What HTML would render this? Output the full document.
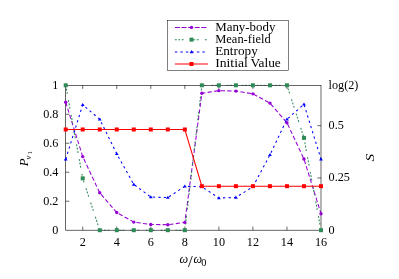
<!DOCTYPE html><html><head><meta charset="utf-8"><style>html,body{margin:0;padding:0;background:#fff}svg{display:block;will-change:transform}text{font-family:"Liberation Serif",serif;font-size:12.2px;fill:#000}</style></head><body>
<svg width="399" height="279" viewBox="0 0 399 279">
<rect width="399" height="279" fill="#fff"/>
<g fill="none" stroke-width="1.05">
<polyline points="65.70,102.25 82.72,156.59 99.74,192.82 116.76,212.52 133.78,222.09 150.80,224.55 167.82,224.69 184.84,222.38 201.86,93.27 218.88,90.66 235.90,91.10 252.92,93.85 269.94,103.12 286.96,122.68 303.98,159.05 321.00,213.68" stroke="#9400d3" stroke-dasharray="4.3 2.3"/>
<path d="M65.70 85.30 L82.72 178.33" stroke="#2e8b57" stroke-dasharray="1.9 1.55 1.9 1.55 1.9 6.2" stroke-dashoffset="0.00"/>
<path d="M82.72 178.33 L99.74 230.20" stroke="#2e8b57" stroke-dasharray="1.9 1.55 1.9 1.55 1.9 6.2" stroke-dashoffset="4.57"/>
<path d="M99.74 230.20 L116.76 230.20" stroke="#2e8b57" stroke-dasharray="1.9 1.55 1.9 1.55 1.9 6.2" stroke-dashoffset="14.16" stroke-width="0.75"/>
<path d="M116.76 230.20 L133.78 230.20" stroke="#2e8b57" stroke-dasharray="1.9 1.55 1.9 1.55 1.9 6.2" stroke-dashoffset="1.18" stroke-width="0.75"/>
<path d="M133.78 230.20 L150.80 230.20" stroke="#2e8b57" stroke-dasharray="1.9 1.55 1.9 1.55 1.9 6.2" stroke-dashoffset="3.20" stroke-width="0.75"/>
<path d="M150.80 230.20 L167.82 230.20" stroke="#2e8b57" stroke-dasharray="1.9 1.55 1.9 1.55 1.9 6.2" stroke-dashoffset="5.22" stroke-width="0.75"/>
<path d="M167.82 230.20 L184.84 230.20" stroke="#2e8b57" stroke-dasharray="1.9 1.55 1.9 1.55 1.9 6.2" stroke-dashoffset="7.24" stroke-width="0.75"/>
<path d="M184.84 230.20 L201.86 85.30" stroke="#2e8b57" stroke-dasharray="1.9 1.55 1.9 1.55 1.9 6.2" stroke-dashoffset="9.26"/>
<path d="M201.86 85.30 L218.88 85.30" stroke="#2e8b57" stroke-dasharray="1.9 1.55 1.9 1.55 1.9 6.2" stroke-dashoffset="5.16" stroke-width="0.75"/>
<path d="M218.88 85.30 L235.90 85.30" stroke="#2e8b57" stroke-dasharray="1.9 1.55 1.9 1.55 1.9 6.2" stroke-dashoffset="7.18" stroke-width="0.75"/>
<path d="M235.90 85.30 L252.92 85.30" stroke="#2e8b57" stroke-dasharray="1.9 1.55 1.9 1.55 1.9 6.2" stroke-dashoffset="9.20" stroke-width="0.75"/>
<path d="M252.92 85.30 L269.94 85.30" stroke="#2e8b57" stroke-dasharray="1.9 1.55 1.9 1.55 1.9 6.2" stroke-dashoffset="11.22" stroke-width="0.75"/>
<path d="M269.94 85.30 L286.96 85.30" stroke="#2e8b57" stroke-dasharray="1.9 1.55 1.9 1.55 1.9 6.2" stroke-dashoffset="13.24" stroke-width="0.75"/>
<path d="M286.96 85.30 L303.98 137.90" stroke="#2e8b57" stroke-dasharray="1.9 1.55 1.9 1.55 1.9 6.2" stroke-dashoffset="0.26"/>
<path d="M303.98 137.90 L321.00 230.20" stroke="#2e8b57" stroke-dasharray="1.9 1.55 1.9 1.55 1.9 6.2" stroke-dashoffset="10.54"/>
<polyline points="65.70,159.20 82.72,104.86 99.74,119.21 116.76,153.84 133.78,184.41 150.80,197.02 167.82,197.60 184.84,186.30 201.86,186.73 218.88,198.03 235.90,197.45 252.92,186.73 269.94,154.85 286.96,119.21 303.98,104.28 321.00,159.20" stroke="#0000ff" stroke-dasharray="2.3 3.2"/>
<polyline points="65.70,129.49 82.72,129.49 99.74,129.49 116.76,129.49 133.78,129.49 150.80,129.49 167.82,129.49 184.84,129.49 201.86,186.19 218.88,186.19 235.90,186.19 252.92,186.19 269.94,186.19 286.96,186.19 303.98,186.19 321.00,186.19" stroke="#ff0000"/>
</g>
<g stroke="#000" stroke-width="0.6" fill="none">
<rect x="65.70" y="85.30" width="255.30" height="144.90"/>
<path d="M82.72 230.20 v-3.60 M82.72 85.30 v3.60"/>
<path d="M116.76 230.20 v-3.60 M116.76 85.30 v3.60"/>
<path d="M150.80 230.20 v-3.60 M150.80 85.30 v3.60"/>
<path d="M184.84 230.20 v-3.60 M184.84 85.30 v3.60"/>
<path d="M218.88 230.20 v-3.60 M218.88 85.30 v3.60"/>
<path d="M252.92 230.20 v-3.60 M252.92 85.30 v3.60"/>
<path d="M286.96 230.20 v-3.60 M286.96 85.30 v3.60"/>
<path d="M65.70 201.22 h3.60"/>
<path d="M65.70 172.24 h3.60"/>
<path d="M65.70 143.26 h3.60"/>
<path d="M65.70 114.28 h3.60"/>
<path d="M321.00 177.94 h-3.60"/>
<path d="M321.00 125.68 h-3.60"/>
</g>
<circle cx="65.70" cy="102.25" r="1.70" fill="#9400d3"/>
<circle cx="82.72" cy="156.59" r="1.70" fill="#9400d3"/>
<circle cx="99.74" cy="192.82" r="1.70" fill="#9400d3"/>
<circle cx="116.76" cy="212.52" r="1.70" fill="#9400d3"/>
<circle cx="133.78" cy="222.09" r="1.70" fill="#9400d3"/>
<circle cx="150.80" cy="224.55" r="1.70" fill="#9400d3"/>
<circle cx="167.82" cy="224.69" r="1.70" fill="#9400d3"/>
<circle cx="184.84" cy="222.38" r="1.70" fill="#9400d3"/>
<circle cx="201.86" cy="93.27" r="1.70" fill="#9400d3"/>
<circle cx="218.88" cy="90.66" r="1.70" fill="#9400d3"/>
<circle cx="235.90" cy="91.10" r="1.70" fill="#9400d3"/>
<circle cx="252.92" cy="93.85" r="1.70" fill="#9400d3"/>
<circle cx="269.94" cy="103.12" r="1.70" fill="#9400d3"/>
<circle cx="286.96" cy="122.68" r="1.70" fill="#9400d3"/>
<circle cx="303.98" cy="159.05" r="1.70" fill="#9400d3"/>
<circle cx="321.00" cy="213.68" r="1.70" fill="#9400d3"/>
<rect x="63.70" y="83.30" width="4.00" height="4.00" fill="#2e8b57"/>
<rect x="80.72" y="176.33" width="4.00" height="4.00" fill="#2e8b57"/>
<rect x="97.74" y="228.20" width="4.00" height="4.00" fill="#2e8b57"/>
<rect x="114.76" y="228.20" width="4.00" height="4.00" fill="#2e8b57"/>
<rect x="131.78" y="228.20" width="4.00" height="4.00" fill="#2e8b57"/>
<rect x="148.80" y="228.20" width="4.00" height="4.00" fill="#2e8b57"/>
<rect x="165.82" y="228.20" width="4.00" height="4.00" fill="#2e8b57"/>
<rect x="182.84" y="228.20" width="4.00" height="4.00" fill="#2e8b57"/>
<rect x="199.86" y="83.30" width="4.00" height="4.00" fill="#2e8b57"/>
<rect x="216.88" y="83.30" width="4.00" height="4.00" fill="#2e8b57"/>
<rect x="233.90" y="83.30" width="4.00" height="4.00" fill="#2e8b57"/>
<rect x="250.92" y="83.30" width="4.00" height="4.00" fill="#2e8b57"/>
<rect x="267.94" y="83.30" width="4.00" height="4.00" fill="#2e8b57"/>
<rect x="284.96" y="83.30" width="4.00" height="4.00" fill="#2e8b57"/>
<rect x="301.98" y="135.90" width="4.00" height="4.00" fill="#2e8b57"/>
<rect x="319.00" y="228.20" width="4.00" height="4.00" fill="#2e8b57"/>
<path d="M63.80 160.45 L67.60 160.45 L65.70 157.37 Z" fill="#0000ff"/>
<path d="M80.82 106.11 L84.62 106.11 L82.72 103.03 Z" fill="#0000ff"/>
<path d="M97.84 120.46 L101.64 120.46 L99.74 117.38 Z" fill="#0000ff"/>
<path d="M114.86 155.09 L118.66 155.09 L116.76 152.01 Z" fill="#0000ff"/>
<path d="M131.88 185.66 L135.68 185.66 L133.78 182.58 Z" fill="#0000ff"/>
<path d="M148.90 198.27 L152.70 198.27 L150.80 195.19 Z" fill="#0000ff"/>
<path d="M165.92 198.85 L169.72 198.85 L167.82 195.77 Z" fill="#0000ff"/>
<path d="M182.94 187.55 L186.74 187.55 L184.84 184.47 Z" fill="#0000ff"/>
<path d="M199.96 187.98 L203.76 187.98 L201.86 184.90 Z" fill="#0000ff"/>
<path d="M216.98 199.28 L220.78 199.28 L218.88 196.20 Z" fill="#0000ff"/>
<path d="M234.00 198.70 L237.80 198.70 L235.90 195.62 Z" fill="#0000ff"/>
<path d="M251.02 187.98 L254.82 187.98 L252.92 184.90 Z" fill="#0000ff"/>
<path d="M268.04 156.10 L271.84 156.10 L269.94 153.02 Z" fill="#0000ff"/>
<path d="M285.06 120.46 L288.86 120.46 L286.96 117.38 Z" fill="#0000ff"/>
<path d="M302.08 105.53 L305.88 105.53 L303.98 102.45 Z" fill="#0000ff"/>
<path d="M319.10 160.45 L322.90 160.45 L321.00 157.37 Z" fill="#0000ff"/>
<rect x="63.70" y="127.49" width="4.00" height="4.00" fill="#ff0000"/>
<rect x="80.72" y="127.49" width="4.00" height="4.00" fill="#ff0000"/>
<rect x="97.74" y="127.49" width="4.00" height="4.00" fill="#ff0000"/>
<rect x="114.76" y="127.49" width="4.00" height="4.00" fill="#ff0000"/>
<rect x="131.78" y="127.49" width="4.00" height="4.00" fill="#ff0000"/>
<rect x="148.80" y="127.49" width="4.00" height="4.00" fill="#ff0000"/>
<rect x="165.82" y="127.49" width="4.00" height="4.00" fill="#ff0000"/>
<rect x="182.84" y="127.49" width="4.00" height="4.00" fill="#ff0000"/>
<rect x="199.86" y="184.19" width="4.00" height="4.00" fill="#ff0000"/>
<rect x="216.88" y="184.19" width="4.00" height="4.00" fill="#ff0000"/>
<rect x="233.90" y="184.19" width="4.00" height="4.00" fill="#ff0000"/>
<rect x="250.92" y="184.19" width="4.00" height="4.00" fill="#ff0000"/>
<rect x="267.94" y="184.19" width="4.00" height="4.00" fill="#ff0000"/>
<rect x="284.96" y="184.19" width="4.00" height="4.00" fill="#ff0000"/>
<rect x="301.98" y="184.19" width="4.00" height="4.00" fill="#ff0000"/>
<rect x="319.00" y="184.19" width="4.00" height="4.00" fill="#ff0000"/>
<text x="82.72" y="245.6" text-anchor="middle">2</text>
<text x="116.76" y="245.6" text-anchor="middle">4</text>
<text x="150.80" y="245.6" text-anchor="middle">6</text>
<text x="184.84" y="245.6" text-anchor="middle">8</text>
<text x="218.88" y="245.6" text-anchor="middle">10</text>
<text x="252.92" y="245.6" text-anchor="middle">12</text>
<text x="286.96" y="245.6" text-anchor="middle">14</text>
<text x="321.00" y="245.6" text-anchor="middle">16</text>
<text x="58.4" y="234.10" text-anchor="end">0</text>
<text x="58.4" y="205.12" text-anchor="end">0.2</text>
<text x="58.4" y="176.14" text-anchor="end">0.4</text>
<text x="58.4" y="147.16" text-anchor="end">0.6</text>
<text x="58.4" y="118.18" text-anchor="end">0.8</text>
<text x="58.4" y="89.20" text-anchor="end">1</text>
<text x="328.6" y="233.60">0</text>
<text x="328.6" y="181.34">0.25</text>
<text x="328.6" y="129.08">0.5</text>
<text x="328.6" y="88.70" font-size="12.8" textLength="29.8" lengthAdjust="spacingAndGlyphs">log(2)</text>
<text y="263.1"><tspan x="179.4" font-style="italic">ω</tspan><tspan x="187.9" font-size="17" dy="3.4">/</tspan><tspan x="193.5" dy="-3.4" font-style="italic">ω</tspan><tspan x="201.2" font-size="10.4" dy="2.9">0</tspan></text>
<text transform="translate(27.6,166.2) rotate(-90)"><tspan font-style="italic" font-size="13">P</tspan><tspan font-style="italic" font-size="8.6" dy="3.2" dx="-1.2">ν</tspan><tspan font-size="6.4" dy="1.3" dx="1.4">1</tspan></text>
<text transform="translate(374.3,161.6) rotate(-90)" font-style="italic" font-size="13.8" textLength="7.7" lengthAdjust="spacingAndGlyphs">S</text>
<rect x="167.5" y="20.5" width="121" height="50" fill="#fff" stroke="#000" stroke-width="0.5"/>
<path d="M174.9 27.40 H207.9" stroke="#9400d3" stroke-width="1.05" fill="none" stroke-dasharray="5 1.6"/>
<circle cx="191.50" cy="27.40" r="1.70" fill="#9400d3"/>
<text x="215.2" y="30.80" font-size="13" textLength="60.2" lengthAdjust="spacingAndGlyphs">Many-body</text>
<path d="M174.9 39.65 H207.9" stroke="#2e8b57" stroke-width="1.05" fill="none" stroke-dasharray="1.9 1.55 1.9 1.55 1.9 6.2"/>
<rect x="189.50" y="37.65" width="4.00" height="4.00" fill="#2e8b57"/>
<text x="215.2" y="43.05" font-size="13" textLength="55.5" lengthAdjust="spacingAndGlyphs">Mean-field</text>
<path d="M174.9 51.95 H207.9" stroke="#0000ff" stroke-width="1.05" fill="none" stroke-dasharray="2.4 3.1"/>
<path d="M189.60 53.20 L193.40 53.20 L191.50 50.12 Z" fill="#0000ff"/>
<text x="215.2" y="55.35" font-size="13" textLength="42.6" lengthAdjust="spacingAndGlyphs">Entropy</text>
<path d="M174.9 64.00 H207.9" stroke="#ff0000" stroke-width="1.05" fill="none"/>
<rect x="189.50" y="62.00" width="4.00" height="4.00" fill="#ff0000"/>
<text x="215.2" y="67.40" font-size="13" textLength="32.6" lengthAdjust="spacingAndGlyphs">Initial</text>
<text x="250.4" y="67.40" font-size="13" textLength="30.4" lengthAdjust="spacingAndGlyphs">Value</text>
</svg></body></html>
